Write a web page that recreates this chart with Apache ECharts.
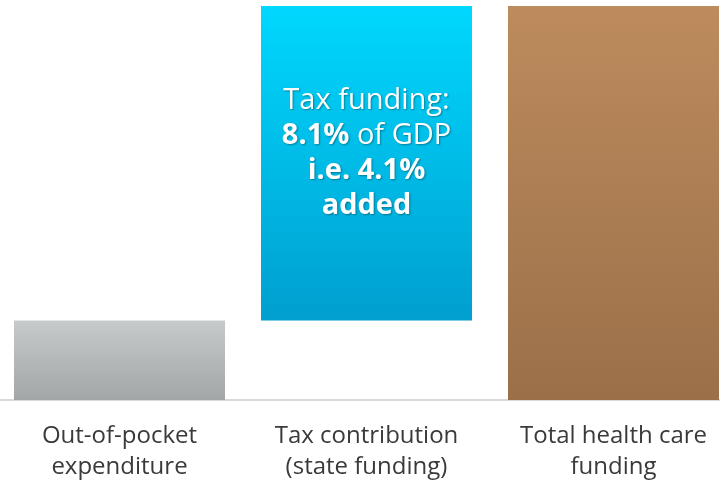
<!DOCTYPE html>
<html>
<head>
<meta charset="utf-8">
<script src="https://cdn.jsdelivr.net/npm/echarts@6/dist/echarts.min.js"></script>
<style>
  html, body { margin: 0; padding: 0; background: #fff; }
  #chart { width: 720px; height: 482px; }
</style>
</head>
<body>
<div id="chart"></div>
<script>
// Health care funding build-up (% of GDP)
const categories = ['Out-of-pocket\nexpenditure', 'Tax contribution\n(state funding)', 'Total health care\nfunding'];
const outOfPocket = 2.05;
const taxFunding = 8.1;
const taxAdded = 4.1;
const totalFunding = outOfPocket + taxFunding;

// invisible offsets that lift each step of the waterfall
const offsets = [0, outOfPocket, 0];
// visible bar heights
const values = [outOfPocket, taxFunding, totalFunding];

const grad = (top, bottom) => new echarts.graphic.LinearGradient(0, 0, 0, 1, [
  { offset: 0, color: top },
  { offset: 1, color: bottom }
]);
const barColors = [
  grad('#c6cacb', '#a2a6a7'),
  grad('#00d8ff', '#009fcf'),
  grad('#bd8b5d', '#9b7049')
];

const labelShadow = {
  color: '#fff', fontFamily: 'Open Sans', fontSize: 29, lineHeight: 35,
  textShadowColor: 'rgba(0,0,0,0.35)', textShadowBlur: 2, textShadowOffsetX: 1, textShadowOffsetY: 1
};

const chart = echarts.init(document.getElementById('chart'));
chart.setOption({
  animation: false,
  grid: { left: -4, width: 741, top: 6, bottom: 82, outerBoundsMode: 'none', containLabel: false },
  xAxis: {
    type: 'category',
    data: categories,
    axisLine: { lineStyle: { color: '#cccccc', width: 1.5 } },
    axisTick: { show: false },
    axisLabel: {
      color: '#3a3a3a',
      fontFamily: 'Open Sans',
      fontSize: 24,
      lineHeight: 31,
      margin: 21,
      interval: 0
    }
  },
  yAxis: {
    type: 'value',
    min: 0,
    max: totalFunding,
    show: false
  },
  series: [
    {
      type: 'bar',
      stack: 'flow',
      barWidth: 211,
      itemStyle: { color: 'transparent' },
      data: offsets,
      silent: true
    },
    {
      type: 'bar',
      stack: 'flow',
      barWidth: 211,
      data: values.map((v, i) => ({
        value: v,
        itemStyle: { color: barColors[i] },
        label: i === 1 ? {
          show: true,
          position: 'insideTop',
          distance: 77,
          align: 'center',
          formatter: () => '{r|Tax funding:}\n{b|' + taxFunding + '%}{r| of GDP}\n{b|i.e. ' + taxAdded + '%}\n{b|added}',
          rich: {
            r: Object.assign({}, labelShadow),
            b: Object.assign({ fontWeight: 'bold' }, labelShadow)
          }
        } : { show: false }
      }))
    }
  ]
});
</script>
</body>
</html>
